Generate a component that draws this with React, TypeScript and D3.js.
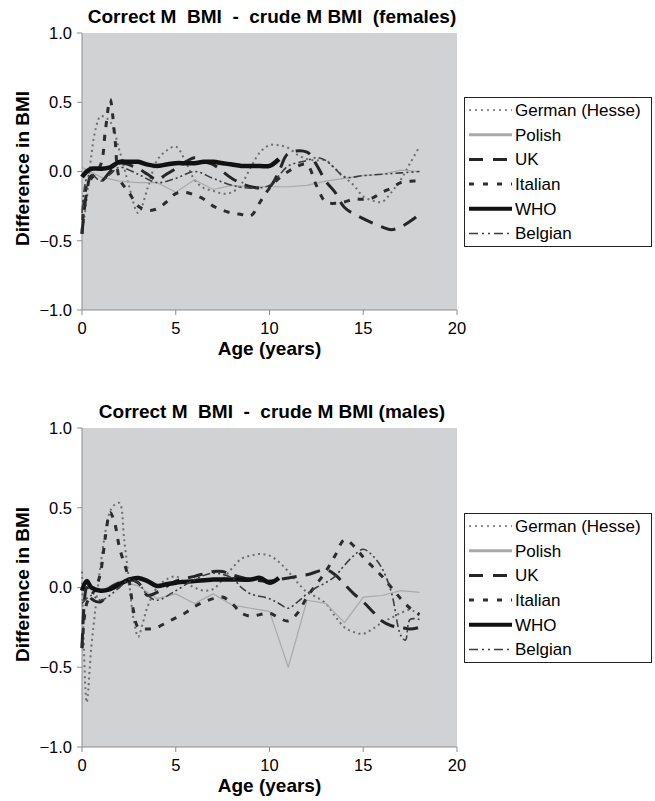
import React from 'react';
import * as d3 from 'd3';

const WIDTH = 655;
const HEIGHT = 801;
const FONT = "'Liberation Sans', Arial, Helvetica, sans-serif";
const PLOT = { left: 82, right: 457 };
const PANELS = [
    { top: 33, bottom: 310 },
    { top: 428, bottom: 747 },
];

const X_TICKS = [0, 5, 10, 15, 20];
const Y_TICKS = [-1, -0.5, 0, 0.5, 1];
const SERIES_NAMES = ["German (Hesse)", "Polish", "UK", "Italian", "WHO", "Belgian"];
const TITLES = [
    "Correct M  BMI  -  crude M BMI  (females)",
    "Correct M  BMI  -  crude M BMI (males)",
];

type Pt = [number, number];

// females: [age, difference]
const F_GERMAN: Pt[] = [[0, -0.45], [0.25, -0.2], [0.5, 0.12], [0.75, 0.32], [1, 0.4], [1.5, 0.36], [2, 0.15], [2.5, -0.1], [3, -0.3], [3.5, -0.12], [4, 0.08], [4.5, 0.15], [5, 0.18], [5.5, 0.08], [6, -0.06], [6.5, -0.12], [7, -0.14], [7.5, -0.16], [8, -0.15], [8.5, -0.09], [9, 0.03], [9.5, 0.14], [10, 0.19], [10.5, 0.19], [11, 0.17], [11.5, 0.12], [12, 0.09], [12.5, 0.08], [13, 0.08], [13.5, 0.02], [14, -0.04], [14.5, -0.1], [15, -0.18], [15.5, -0.21], [16, -0.22], [16.5, -0.15], [17, -0.06], [17.5, 0.06], [18, 0.18]];
const F_POLISH: Pt[] = [[0, 0.03], [1, -0.04], [2, -0.07], [3, -0.08], [4, -0.08], [5, -0.15], [6, -0.06], [7, -0.13], [8, -0.1], [9, -0.11], [10, -0.11], [11, -0.11], [12, -0.1], [13, -0.07], [14, -0.05], [15, -0.03], [16, -0.02], [17, 0.01], [18, 0.0]];
const F_UK: Pt[] = [[0, -0.45], [0.25, -0.15], [0.5, -0.03], [1, -0.07], [1.5, 0.0], [2, 0.06], [3, 0.02], [3.5, -0.02], [4, -0.06], [4.5, -0.02], [5, 0.02], [6, 0.1], [6.5, 0.07], [7, 0.05], [8, -0.05], [9, -0.11], [10, -0.11], [10.5, 0.0], [11, 0.13], [12, 0.14], [12.5, 0.05], [13, -0.07], [13.5, -0.15], [14, -0.26], [15, -0.34], [16, -0.4], [16.5, -0.42], [17, -0.4], [17.5, -0.36], [18, -0.31]];
const F_ITALIAN: Pt[] = [[0, -0.45], [0.25, -0.1], [0.5, -0.05], [1, 0.05], [1.25, 0.3], [1.5, 0.52], [1.75, 0.25], [2, -0.05], [2.5, -0.15], [3, -0.25], [3.5, -0.28], [4, -0.27], [4.5, -0.22], [5, -0.16], [5.5, -0.15], [6, -0.17], [6.5, -0.2], [7, -0.25], [7.5, -0.28], [8, -0.3], [8.5, -0.31], [9, -0.32], [9.5, -0.22], [10, -0.12], [10.5, -0.05], [11, 0.0], [11.5, 0.04], [12, 0.05], [12.5, -0.1], [13, -0.22], [13.5, -0.23], [14, -0.22], [14.5, -0.2], [15, -0.2], [15.5, -0.19], [16, -0.15], [16.5, -0.12], [17, -0.08], [17.5, -0.07], [18, -0.07]];
const F_WHO: Pt[] = [[0, -0.04], [0.25, 0.0], [0.5, 0.02], [1, 0.02], [1.5, 0.03], [2, 0.07], [2.5, 0.07], [3, 0.07], [3.5, 0.05], [4, 0.04], [4.5, 0.05], [5, 0.06], [5.5, 0.06], [6, 0.06], [6.5, 0.07], [7, 0.07], [7.5, 0.06], [8, 0.05], [8.5, 0.04], [9, 0.04], [9.5, 0.04], [10, 0.04], [10.5, 0.09]];
const F_BELGIAN: Pt[] = [[0, -0.3], [0.25, -0.05], [0.5, -0.02], [1, -0.07], [1.5, -0.02], [2, 0.03], [3, -0.02], [4, -0.08], [5, -0.05], [6, 0.0], [7, -0.05], [8, -0.1], [9, -0.12], [10, -0.1], [10.5, -0.03], [11, 0.04], [12, 0.08], [12.5, 0.1], [13, 0.08], [13.5, 0.02], [14, -0.04], [15, -0.03], [16, -0.02], [17, -0.01], [18, 0.0]];

// males
const M_GERMAN: Pt[] = [[0, 0.1], [0.25, -0.72], [0.5, -0.37], [0.75, -0.1], [1, 0.15], [1.25, 0.35], [1.5, 0.48], [1.75, 0.52], [2, 0.53], [2.25, 0.3], [2.5, 0.05], [2.75, -0.2], [3, -0.31], [3.25, -0.22], [3.5, -0.12], [4, 0.0], [4.5, 0.05], [5, 0.07], [5.5, 0.03], [6, 0.0], [6.5, -0.02], [7, -0.01], [7.5, 0.05], [8, 0.12], [8.5, 0.18], [9, 0.2], [9.5, 0.21], [10, 0.2], [10.5, 0.16], [11, 0.1], [11.5, 0.03], [12, -0.03], [12.5, -0.06], [13, -0.1], [13.5, -0.18], [14, -0.25], [14.5, -0.28], [15, -0.29], [15.5, -0.26], [16, -0.22], [16.5, -0.19], [17, -0.16], [17.5, -0.14], [18, -0.17]];
const M_POLISH: Pt[] = [[0, 0.0], [1, -0.02], [2, 0.04], [3, 0.01], [4, -0.07], [5, -0.04], [6, -0.1], [7, -0.04], [8, -0.11], [9, -0.13], [10, -0.15], [11, -0.5], [12, -0.08], [13, -0.1], [14, -0.22], [15, -0.06], [16, -0.05], [17, -0.02], [18, -0.03]];
const M_UK: Pt[] = [[0, -0.38], [0.25, 0.0], [0.5, -0.07], [1, -0.09], [1.5, 0.0], [2, 0.03], [2.5, 0.05], [3, 0.03], [3.5, -0.05], [4, -0.03], [5, 0.04], [6, 0.07], [7, 0.1], [7.5, 0.1], [8, 0.08], [9, 0.05], [10, 0.04], [10.5, 0.05], [11, 0.06], [12, 0.08], [13, 0.11], [13.5, 0.08], [14, 0.02], [14.5, -0.04], [15, -0.09], [15.5, -0.15], [16, -0.21], [16.5, -0.24], [17, -0.25], [17.5, -0.26], [18, -0.25]];
const M_ITALIAN: Pt[] = [[0, -0.38], [0.25, -0.1], [0.5, -0.05], [0.75, 0.0], [1, 0.1], [1.25, 0.32], [1.5, 0.47], [1.75, 0.4], [2, 0.25], [2.5, 0.05], [2.75, -0.15], [3, -0.25], [3.5, -0.26], [4, -0.25], [4.5, -0.22], [5, -0.19], [5.5, -0.16], [6, -0.12], [6.5, -0.09], [7, -0.07], [7.5, -0.06], [8, -0.1], [8.5, -0.16], [9, -0.18], [9.5, -0.17], [10, -0.16], [10.5, -0.19], [11, -0.21], [11.5, -0.16], [12, -0.06], [12.5, 0.02], [13, 0.1], [13.5, 0.2], [14, 0.3], [14.5, 0.26], [15, 0.19], [15.5, 0.13], [16, 0.07], [16.5, 0.0], [17, -0.07], [17.5, -0.13], [18, -0.17]];
const M_WHO: Pt[] = [[0, -0.02], [0.25, 0.04], [0.5, 0.0], [1, -0.02], [1.5, -0.01], [2, 0.02], [2.5, 0.05], [3, 0.06], [3.5, 0.04], [4, 0.01], [4.5, 0.02], [5, 0.03], [6, 0.04], [7, 0.05], [8, 0.05], [9, 0.05], [9.5, 0.06], [10, 0.03], [10.5, 0.06]];
const M_BELGIAN: Pt[] = [[0, -0.1], [0.5, -0.05], [1, -0.08], [2, 0.0], [2.5, 0.05], [3, 0.03], [3.5, -0.05], [4, -0.08], [5, -0.02], [6, 0.05], [7, 0.09], [8, 0.06], [8.5, 0.0], [9, -0.04], [10, -0.07], [10.5, -0.1], [11, -0.13], [11.5, -0.09], [12, -0.04], [12.5, 0.0], [13, 0.03], [13.5, 0.07], [14, 0.14], [14.5, 0.2], [15, 0.24], [15.5, 0.2], [16, 0.12], [16.5, -0.03], [17, -0.3], [17.25, -0.33], [17.5, -0.2], [18, -0.2]];

const FEMALES = [F_GERMAN, F_POLISH, F_UK, F_ITALIAN, F_WHO, F_BELGIAN];
const MALES = [M_GERMAN, M_POLISH, M_UK, M_ITALIAN, M_WHO, M_BELGIAN];

// line look for each series, same order as SERIES_NAMES
const STYLES = [
    { stroke: "#6e6e6e", width: 2, dash: "2 3.5", lWidth: 1.5, lDash: "2 4", curve: true },
    { stroke: "#a9a9a9", width: 1.2, dash: null, lWidth: 3, lDash: null, curve: false },
    { stroke: "#252525", width: 3, dash: "15 9", lWidth: 3, lDash: "14 10", curve: true },
    { stroke: "#2c2c2c", width: 3, dash: "6 8", lWidth: 3, lDash: "5 9", curve: true },
    { stroke: "#111111", width: 4.5, dash: null, lWidth: 4, lDash: null, curve: true },
    { stroke: "#3d3d3d", width: 1.6, dash: "8 3 2 3 2 3", lWidth: 1.5, lDash: "9 4 2 4 2 4", curve: true },
];

function Panel({ idx, series }: { idx: number, series: Pt[][] }) {
    const { top, bottom } = PANELS[idx];
    const x = d3.scaleLinear().domain([0, 20]).range([PLOT.left, PLOT.right]);
    const y = d3.scaleLinear().domain([-1, 1]).range([bottom, top]);
    const fmt = d3.format(".1f");
    const midY = (top + bottom) / 2;
    const legendTop = idx === 0 ? 97 : 513;

    return (
        <g>
            <text x={272} y={top - 10} textAnchor="middle" fontWeight="bold" fontSize={19} style={{ whiteSpace: 'pre' }}>
                {TITLES[idx]}
            </text>
            <rect x={PLOT.left} y={top} width={PLOT.right - PLOT.left} height={bottom - top} fill="#d1d2d4" />
            <line x1={PLOT.left} x2={PLOT.left} y1={top} y2={bottom} stroke="#8c8c8c" />
            <line x1={PLOT.left} x2={PLOT.right} y1={bottom} y2={bottom} stroke="#8c8c8c" />
            {Y_TICKS.map(t => (
                <g key={t}>
                    <line x1={PLOT.left - 5} x2={PLOT.left} y1={y(t)} y2={y(t)} stroke="#8c8c8c" />
                    <text x={PLOT.left - 10} y={y(t)} dy="0.35em" textAnchor="end" fontSize={16.5}>{fmt(t)}</text>
                </g>
            ))}
            {X_TICKS.map(t => (
                <g key={t}>
                    <line x1={x(t)} x2={x(t)} y1={bottom} y2={bottom + 5} stroke="#8c8c8c" />
                    <text x={x(t)} y={bottom + 24} textAnchor="middle" fontSize={16.5}>{t}</text>
                </g>
            ))}
            <text transform={`translate(29, ${midY - 3}) rotate(-90)`} textAnchor="middle" fontWeight="bold" fontSize={19}>
                Difference in BMI
            </text>
            <text x={(PLOT.left + PLOT.right) / 2} y={bottom + 45} textAnchor="middle" fontWeight="bold" fontSize={19}>
                Age (years)
            </text>

            {series.map((d, i) => {
                const s = STYLES[i];
                const line = d3.line<Pt>()
                    .x(p => x(p[0]))
                    .y(p => y(p[1]))
                    .curve(s.curve ? d3.curveCatmullRom.alpha(0.5) : d3.curveLinear);
                return (
                    <path key={i} d={line(d) || ""} fill="none" stroke={s.stroke} strokeWidth={s.width}
                        strokeDasharray={s.dash || undefined} strokeLinejoin="round" />
                );
            })}

            <rect x={464.5} y={legendTop + 0.5} width={187} height={149} fill="#fff" stroke="#222" />
            {SERIES_NAMES.map((name, i) => {
                const s = STYLES[i];
                const cy = legendTop + 13 + i * 24.7;
                return (
                    <g key={name}>
                        <line x1={469} x2={512} y1={cy} y2={cy} stroke={s.stroke} strokeWidth={s.lWidth}
                            strokeDasharray={s.lDash || undefined} />
                        <text x={515} y={cy} dy="0.35em" fontSize={17}>{name}</text>
                    </g>
                );
            })}
        </g>
    );
}

export default function App() {
    return (
        <svg width={WIDTH} height={HEIGHT} style={{ position: 'absolute', left: 0, top: 0, background: '#fff' }}
            fontFamily={FONT}>
            <Panel idx={0} series={FEMALES} />
            <Panel idx={1} series={MALES} />
        </svg>
    );
}
